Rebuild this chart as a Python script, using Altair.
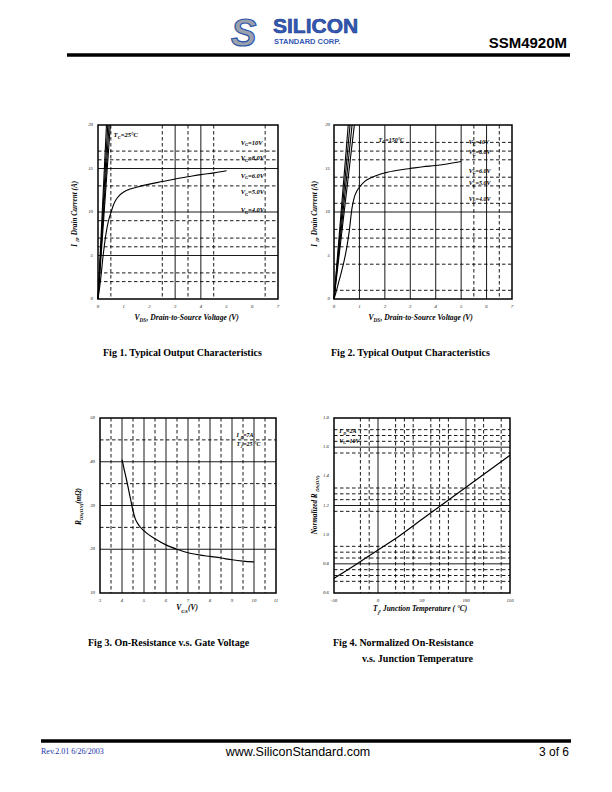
import altair as alt
import pandas as pd

SERIF = "Liberation Serif"
SANS = "Liberation Sans"

# ---------------- Fig 1 : Typical output characteristics, Tc = 25 C ----------------
f1_xticks = [0, 1, 2, 3, 4, 5, 6, 7]
f1_xlabels = ["0", "1", "2", "3", "4", "5", "6", "7"]
f1_yticks = [0, 5, 10, 15, 20]
f1_ylabels = ["0", "5", "10", "15", "20"]
f1_v_dash = [0.5, 2.5, 3.5, 4.5, 6.5]
f1_v_solid = [3, 4]
f1_h_dash = [2, 3, 6, 7, 9, 13, 16, 17]
f1_h_solid = [5, 10, 15]
f1_vds = [0, 0.1, 0.2, 0.3, 0.4, 0.5, 0.6, 0.7, 0.8, 1.0, 1.25, 1.5, 2.0, 2.5, 3.0, 3.5, 4.0, 4.5, 5.0]
f1_id = [0, 2.2, 5.0, 7.3, 8.9, 9.9, 10.8, 11.4, 11.8, 12.3, 12.65, 12.85, 13.2, 13.5, 13.8, 14.05, 14.3, 14.5, 14.75]
f1_steep_end = [0.33, 0.38, 0.43, 0.48]      # V_DS where the higher-V_G curves reach 20 A
f1_vg = ["=10V", "=8.0V", "=6.0V", "=5.0V", "=4.0V"]
f1_vg_y = [18.0, 16.2, 14.2, 12.3, 10.2]
f1_vg_x = 5.55
f1_tc = "=25°C"
f1_tc_pos = (0.6, 18.85)

# ---------------- Fig 2 : Typical output characteristics, Tc = 150 C ----------------
f2_xticks = f1_xticks
f2_xlabels = f1_xlabels
f2_yticks = f1_yticks
f2_ylabels = f1_ylabels
f2_v_dash = [5.5, 6.5]
f2_v_solid = [1, 2, 3, 4, 5, 6]
f2_h_dash = [1, 4, 6, 7, 8, 11, 13, 14, 16, 17, 18]
f2_h_solid = [10]
f2_vds = [0, 0.1, 0.2, 0.3, 0.4, 0.5, 0.6, 0.7, 0.8, 0.9, 1.0, 1.2, 1.5, 2.0, 2.5, 3.0, 3.5, 4.0, 4.5, 5.0]
f2_id = [0, 1.0, 2.1, 3.2, 4.4, 5.9, 7.8, 10.3, 11.7, 12.4, 12.85, 13.5, 14.0, 14.5, 14.8, 15.0, 15.2, 15.35, 15.55, 15.8]
f2_steep_end = [0.56, 0.63, 0.71, 0.80]
f2_vg = ["=10V", "=8.0V", "=6.0V", "=5.0V", "=4.0V"]
f2_vg_y = [18.0, 16.9, 14.75, 13.3, 11.45]
f2_vg_x = 5.3
f2_tc = "=150°C"
f2_tc_pos = (1.75, 18.3)

# ---------------- Fig 3 : On-resistance vs gate voltage ----------------
f3_xticks = [3, 4, 5, 6, 7, 8, 9, 10, 11]
f3_xlabels = ["3", "4", "5", "6", "7", "8", "9", "10", "11"]
f3_yticks = [10, 20, 30, 40, 50]
f3_ylabels = ["10", "20", "30", "40", "50"]
f3_v_dash = [3.5, 4.5, 5.5, 6.5, 7.5, 8.5, 9.5, 10.5]
f3_v_solid = [4, 5, 6, 7, 8, 9, 10]
f3_h_dash = [25, 35, 45]
f3_h_solid = [20, 30, 40]
f3_vgs = [4.0, 4.1, 4.2, 4.3, 4.4, 4.5, 4.6, 4.75, 5.0, 5.5, 6.0, 6.5, 7.0, 7.5, 8.0, 8.5, 9.0, 9.5, 10.0]
f3_rds = [40.5, 38.2, 36.0, 33.6, 31.2, 28.8, 27.0, 25.6, 24.2, 22.4, 21.0, 20.0, 19.2, 18.7, 18.35, 18.0, 17.6, 17.3, 17.1]
f3_note_x = 9.2
f3_note_y = [46.0, 44.0]

# ---------------- Fig 4 : Normalized on-resistance vs junction temperature ----------------
f4_xticks = [-50, 0, 50, 100, 150]
f4_xlabels = ["-50", "0", "50", "100", "150"]
f4_yticks = [0.6, 0.8, 1.0, 1.2, 1.4, 1.6, 1.8]
f4_ylabels = ["0.6", "0.8", "1.0", "1.2", "1.4", "1.6", "1.8"]
f4_v_dash = [-20, -10, 20, 30, 40, 60, 70, 80, 110, 120, 140]
f4_v_solid = [0, 100]
f4_h_dash = [0.68, 0.72, 0.76, 0.84, 0.88, 0.92, 1.16, 1.24, 1.28, 1.32, 1.56, 1.64, 1.68, 1.72]
f4_h_solid = [0.8, 1.2, 1.6]
f4_tj = [-50, -25, 0, 25, 50, 75, 100, 125, 150]
f4_rn = [0.70, 0.795, 0.895, 0.995, 1.105, 1.215, 1.325, 1.435, 1.545]
f4_note_x = -44
f4_note_y = [1.71, 1.645]

# ---------------- page layout (pixels) ----------------
P1 = dict(x0=98, x1=278, y0=125, y1=299, xd=[0, 7], yd=[0, 20])
P2 = dict(x0=334, x1=512, y0=125, y1=299, xd=[0, 7], yd=[0, 20])
P3 = dict(x0=100, x1=276, y0=418, y1=593, xd=[3, 11], yd=[10, 50])
P4 = dict(x0=334, x1=510, y0=418, y1=593, xd=[-50, 150], yd=[0.6, 1.8])

ONE = pd.DataFrame({"k": [0]})
DASH = [3.5, 2.5]


def xs(P):
    return alt.Scale(domain=P["xd"], range=[P["x0"], P["x1"]], nice=False, zero=False)


def ys(P):
    return alt.Scale(domain=P["yd"], range=[P["y1"], P["y0"]], nice=False, zero=False)


def tw(s, size):
    w = 0.0
    for ch in s:
        if ch in "ilj.,:;|'!":
            w += 0.28
        elif ch == " ":
            w += 0.25
        elif ch in "mwMWΩ":
            w += 0.85
        elif ch.isupper():
            w += 0.67
        elif ch.isdigit():
            w += 0.5
        elif ch in "()-/":
            w += 0.33
        elif ch == "=":
            w += 0.57
        elif ch == "°":
            w += 0.4
        else:
            w += 0.48
    return w * size


def rich(pieces, x, y, size, P=None, angle=0, anchor="left", mid=True,
         color="black", weight="bold", style="italic", font=SERIF):
    # dx / dy of a Vega text mark are applied in the rotated text frame
    sub = size * 0.68
    widths = [tw(t, sub if s else size) for t, s in pieces]
    total = sum(widths)
    cum = -total / 2 if anchor == "center" else 0.0
    out = []
    base = size * 0.33 if mid else 0.0
    for (t, s), w in zip(pieces, widths):
        across = base + (size * 0.28 if s else 0.0)
        kw = dict(text=t, font=font, fontSize=sub if s else size, fontWeight=weight,
                  fontStyle=style, color=color, align="left", baseline="alphabetic",
                  dx=cum, dy=across)
        if angle:
            kw["angle"] = angle
        if P is None:
            ch = alt.Chart(ONE).mark_text(**kw).encode(x=alt.value(x), y=alt.value(y))
        else:
            df = pd.DataFrame({"x": [x], "y": [y]})
            ch = alt.Chart(df).mark_text(**kw).encode(
                x=alt.X("x:Q", scale=xs(P), axis=None),
                y=alt.Y("y:Q", scale=ys(P), axis=None))
        out.append(ch)
        cum += w
    return out


def vgrid(P, vals, dashed):
    kw = dict(color="black", strokeWidth=0.9)
    if dashed:
        kw["strokeDash"] = DASH
    df = pd.DataFrame({"v": vals})
    return alt.Chart(df).mark_rule(**kw).encode(
        x=alt.X("v:Q", scale=xs(P), axis=None),
        y=alt.value(P["y0"]), y2=alt.value(P["y1"]))


def hgrid(P, vals, dashed):
    kw = dict(color="black", strokeWidth=0.9)
    if dashed:
        kw["strokeDash"] = DASH
    df = pd.DataFrame({"v": vals})
    return alt.Chart(df).mark_rule(**kw).encode(
        y=alt.Y("v:Q", scale=ys(P), axis=None),
        x=alt.value(P["x0"]), x2=alt.value(P["x1"]))


def frame(P):
    return alt.Chart(ONE).mark_rect(filled=False, stroke="black", strokeWidth=1.5).encode(
        x=alt.value(P["x0"]), x2=alt.value(P["x1"]),
        y=alt.value(P["y0"]), y2=alt.value(P["y1"]))


def xlab(P, vals, labels, ypix):
    df = pd.DataFrame({"v": vals, "t": labels})
    return alt.Chart(df).mark_text(font=SERIF, fontSize=4.8, fontStyle="italic",
                                   color="#222222", baseline="middle", align="center").encode(
        x=alt.X("v:Q", scale=xs(P), axis=None), y=alt.value(ypix), text="t:N")


def ylab(P, vals, labels, xpix):
    df = pd.DataFrame({"v": vals, "t": labels})
    return alt.Chart(df).mark_text(font=SERIF, fontSize=4.8, fontStyle="italic",
                                   color="#222222", baseline="middle", align="right").encode(
        y=alt.Y("v:Q", scale=ys(P), axis=None), x=alt.value(xpix), text="t:N")


def curve(P, xv, yv, width=1.1):
    df = pd.DataFrame({"x": xv, "y": yv})
    return alt.Chart(df).mark_line(color="black", strokeWidth=width, interpolate="monotone").encode(
        x=alt.X("x:Q", scale=xs(P), axis=None), y=alt.Y("y:Q", scale=ys(P), axis=None))


def steep(P, ends, top):
    rows = []
    for i, e in enumerate(ends):
        rows.append({"s": i, "x": 0, "y": 0})
        rows.append({"s": i, "x": e, "y": top})
    df = pd.DataFrame(rows)
    return alt.Chart(df).mark_line(color="black", strokeWidth=1.1).encode(
        x=alt.X("x:Q", scale=xs(P), axis=None), y=alt.Y("y:Q", scale=ys(P), axis=None),
        detail="s:N")


layers = []

# ---- grids, curves, frames ----
for P, vd, vs, hd, hs in [(P1, f1_v_dash, f1_v_solid, f1_h_dash, f1_h_solid),
                          (P2, f2_v_dash, f2_v_solid, f2_h_dash, f2_h_solid),
                          (P3, f3_v_dash, f3_v_solid, f3_h_dash, f3_h_solid),
                          (P4, f4_v_dash, f4_v_solid, f4_h_dash, f4_h_solid)]:
    layers += [vgrid(P, vd, True), vgrid(P, vs, False), hgrid(P, hd, True), hgrid(P, hs, False)]

layers += [curve(P1, f1_vds, f1_id), steep(P1, f1_steep_end, 20),
           curve(P2, f2_vds, f2_id), steep(P2, f2_steep_end, 20),
           curve(P3, f3_vgs, f3_rds, 1.2),
           curve(P4, f4_tj, f4_rn, 1.2)]

for P in (P1, P2, P3, P4):
    layers.append(frame(P))

# ---- tick labels ----
layers += [xlab(P1, f1_xticks, f1_xlabels, 306.5), ylab(P1, f1_yticks, f1_ylabels, 93),
           xlab(P2, f2_xticks, f2_xlabels, 306.5), ylab(P2, f2_yticks, f2_ylabels, 330),
           xlab(P3, f3_xticks, f3_xlabels, 601), ylab(P3, f3_yticks, f3_ylabels, 95),
           xlab(P4, f4_xticks, f4_xlabels, 601), ylab(P4, f4_yticks, f4_ylabels, 329)]

# ---- in-plot annotations ----
for lab, yv in zip(f1_vg, f1_vg_y):
    layers += rich([("V", False), ("G", True), (lab, False)], f1_vg_x, yv, 6.5, P=P1)
layers += rich([("T", False), ("C", True), (f1_tc, False)], f1_tc_pos[0], f1_tc_pos[1], 6.5, P=P1)
for lab, yv in zip(f2_vg, f2_vg_y):
    layers += rich([("V", False), ("G", True), (lab, False)], f2_vg_x, yv, 6.0, P=P2)
layers += rich([("T", False), ("C", True), (f2_tc, False)], f2_tc_pos[0], f2_tc_pos[1], 6.0, P=P2)
layers += rich([("I", False), ("D", True), ("=7A", False)], f3_note_x, f3_note_y[0], 6.0, P=P3)
layers += rich([("T", False), ("J", True), ("=25 °C", False)], f3_note_x, f3_note_y[1], 6.0, P=P3)
layers += rich([("I", False), ("D", True), ("=2A", False)], f4_note_x, f4_note_y[0], 6.0, P=P4)
layers += rich([("V", False), ("G", True), ("=10V", False)], f4_note_x, f4_note_y[1], 6.0, P=P4)

# ---- axis titles ----
layers += rich([("V", False), ("DS", True), (" , Drain-to-Source Voltage (V)", False)], 190, 317, 7.6, anchor="center")
layers += rich([("V", False), ("DS", True), (" , Drain-to-Source Voltage (V)", False)], 424, 317, 7.6, anchor="center")
layers += rich([("I", False), ("D", True), (" , Drain Current (A)", False)], 75, 212, 7.2, angle=270, anchor="center")
layers += rich([("I", False), ("D", True), (" , Drain Current (A)", False)], 315, 212, 7.2, angle=270, anchor="center")
layers += rich([("V", False), ("GS", True), (" (V)", False)], 188, 608, 7.4, anchor="center")
layers += rich([("R", False), ("DS(ON)", True), (" (mΩ)", False)], 79, 505, 7.2, angle=270, anchor="center")
layers += rich([("T", False), ("j", True), (" , Junction Temperature ( °C)", False)], 424, 609, 7.4, anchor="center")
layers += rich([("Normalized R", False), ("DS(ON)", True)], 315, 505, 7.2, angle=270, anchor="center")

# ---- captions ----
captions = [("Fig 1. Typical Output Characteristics", 103, 356),
            ("Fig 2. Typical Output Characteristics", 331, 356),
            ("Fig 3. On-Resistance  v.s. Gate Voltage", 88, 646),
            ("Fig 4. Normalized On-Resistance", 333, 646),
            ("v.s. Junction Temperature", 362, 662)]
for t, x, y in captions:
    layers.append(alt.Chart(ONE).mark_text(text=t, font=SERIF, fontSize=10, fontWeight="bold",
                                           align="left", baseline="alphabetic", color="black").encode(
        x=alt.value(x), y=alt.value(y)))

# ---- header ----
layers.append(alt.Chart(ONE).mark_text(text="S", font=SANS, fontSize=38, fontWeight="bold",
                                       fontStyle="italic", color="#9aa1ad", stroke="#2d57a8",
                                       strokeWidth=1.2, align="left",
                                       baseline="alphabetic").encode(x=alt.value(231), y=alt.value(46)))
layers.append(alt.Chart(ONE).mark_text(text="SILICON", font=SANS, fontSize=21, fontWeight="bold",
                                       color="#3358b5", stroke="#1c3a85", strokeWidth=0.6,
                                       align="left", baseline="alphabetic").encode(x=alt.value(273), y=alt.value(33)))
layers.append(alt.Chart(ONE).mark_text(text="STANDARD CORP.", font=SANS, fontSize=7.5, fontWeight="bold",
                                       color="#3358b5", align="left",
                                       baseline="alphabetic").encode(x=alt.value(274), y=alt.value(43.5)))
layers.append(alt.Chart(ONE).mark_text(text="SSM4920M", font=SANS, fontSize=15, fontWeight="bold",
                                       color="black", align="right",
                                       baseline="alphabetic").encode(x=alt.value(567), y=alt.value(48)))
layers.append(alt.Chart(ONE).mark_rule(color="black", strokeWidth=3.5).encode(
    x=alt.value(67), x2=alt.value(570), y=alt.value(55)))

# ---- footer ----
layers.append(alt.Chart(ONE).mark_rule(color="black", strokeWidth=3.5).encode(
    x=alt.value(41), x2=alt.value(571), y=alt.value(741)))
layers.append(alt.Chart(ONE).mark_text(text="Rev.2.01 6/26/2003", font=SERIF, fontSize=8,
                                       color="#2233aa", align="left", baseline="middle").encode(
    x=alt.value(41), y=alt.value(752)))
layers.append(alt.Chart(ONE).mark_text(text="www.SiliconStandard.com", font=SANS, fontSize=12.5,
                                       color="black", align="center", baseline="middle").encode(
    x=alt.value(298), y=alt.value(752)))
layers.append(alt.Chart(ONE).mark_text(text="3 of 6", font=SANS, fontSize=12,
                                       color="black", align="right", baseline="middle").encode(
    x=alt.value(569), y=alt.value(752)))

chart = alt.layer(*layers).resolve_scale(x="independent", y="independent").properties(
    width=612, height=792, autosize=alt.AutoSizeParams(type="none"), padding=0,
    background="white").configure_view(strokeWidth=0)

chart.save("out.html", embed_options={"renderer": "svg", "actions": False})
